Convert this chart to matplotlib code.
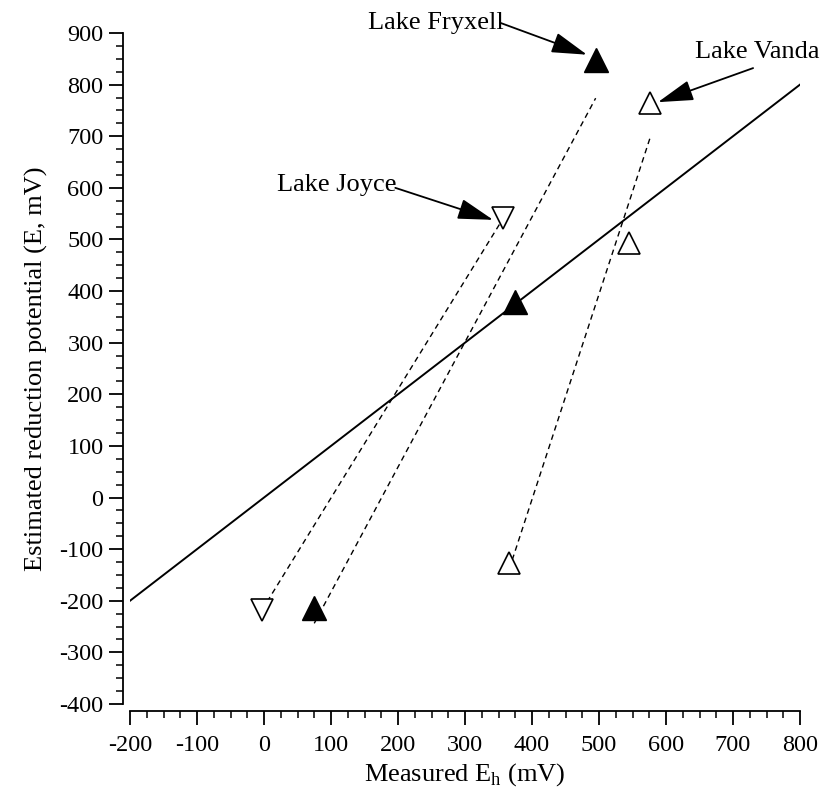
import numpy as np
import matplotlib
matplotlib.use("Agg")
import matplotlib.pyplot as plt
from matplotlib.ticker import MultipleLocator

plt.rcParams['font.family'] = ['Liberation Serif', 'DejaVu Serif']
plt.rcParams['mathtext.fontset'] = 'custom'
plt.rcParams['mathtext.rm'] = 'Liberation Serif'
plt.rcParams['axes.unicode_minus'] = False

# measured Eh (x) vs estimated E (y), mV
fryxell_x = [75, 375, 495]
fryxell_y = [-214, 379, 848]
vanda_x = [366, 545, 576]
vanda_y = [-127, 493, 764]
joyce_x = [-3, 357]
joyce_y = [-218, 541]
one_to_one = [-200, 800]

fig = plt.figure(figsize=(8.27, 8.02), dpi=100)
ax = fig.add_axes([130/827, 1 - 704/802, 670/827, 671/802])

ax.plot(one_to_one, one_to_one, color='k', lw=1.4)

# regression lines through each lake's points
for xs, ys in [(fryxell_x, fryxell_y), (vanda_x, vanda_y), (joyce_x, joyce_y)]:
    m, b = np.polyfit(xs, ys, 1)
    xx = np.array([min(xs), max(xs)])
    ax.plot(xx, m*xx + b, color='k', lw=1.0, ls=(0, (4, 3)))

ax.plot(fryxell_x, fryxell_y, ls='none', marker='^', ms=17,
        mfc='k', mec='k', zorder=3)
ax.plot(vanda_x, vanda_y, ls='none', marker='^', ms=16,
        mfc='white', mec='k', mew=1.2, zorder=3)
ax.plot(joyce_x, joyce_y, ls='none', marker='v', ms=16,
        mfc='white', mec='k', mew=1.2, zorder=3)

arrow = dict(arrowstyle='-|>,head_length=1.1,head_width=0.32', color='k',
             lw=1.3, mutation_scale=20, shrinkA=0, shrinkB=0)
ax.text(155, 920, 'Lake Fryxell', fontsize=19, va='center', ha='left', clip_on=False)
ax.annotate('', xy=(482, 858), xytext=(352, 920), arrowprops=arrow, annotation_clip=False)
ax.text(19, 605, 'Lake Joyce', fontsize=19, va='center', ha='left')
ax.annotate('', xy=(342, 538), xytext=(196, 600), arrowprops=arrow)
ax.text(643, 863, 'Lake Vanda', fontsize=19, va='center', ha='left', clip_on=False)
ax.annotate('', xy=(588, 766), xytext=(730, 832), arrowprops=arrow, annotation_clip=False)

ax.set_xlim(-200, 800)
ax.set_ylim(-400, 900)
ax.xaxis.set_major_locator(MultipleLocator(100))
ax.xaxis.set_minor_locator(MultipleLocator(25))
ax.yaxis.set_major_locator(MultipleLocator(100))
ax.yaxis.set_minor_locator(MultipleLocator(25))

for s in ['top', 'right']:
    ax.spines[s].set_visible(False)
ax.spines['left'].set_position(('outward', 5))
ax.spines['bottom'].set_position(('outward', 5))
ax.spines['left'].set_linewidth(1.3)
ax.spines['bottom'].set_linewidth(1.3)
ax.tick_params(which='major', length=10, width=1.3, labelsize=17.5, pad=4)
ax.tick_params(which='minor', length=5, width=1.1)
ax.tick_params(axis='x', which='major', pad=7)

ax.set_xlabel(r'Measured E$_{\mathrm{h}}$ (mV)', fontsize=19, labelpad=4)
ax.set_ylabel('Estimated reduction potential (E, mV)', fontsize=19, labelpad=8)

fig.savefig('out.png', dpi=100)
